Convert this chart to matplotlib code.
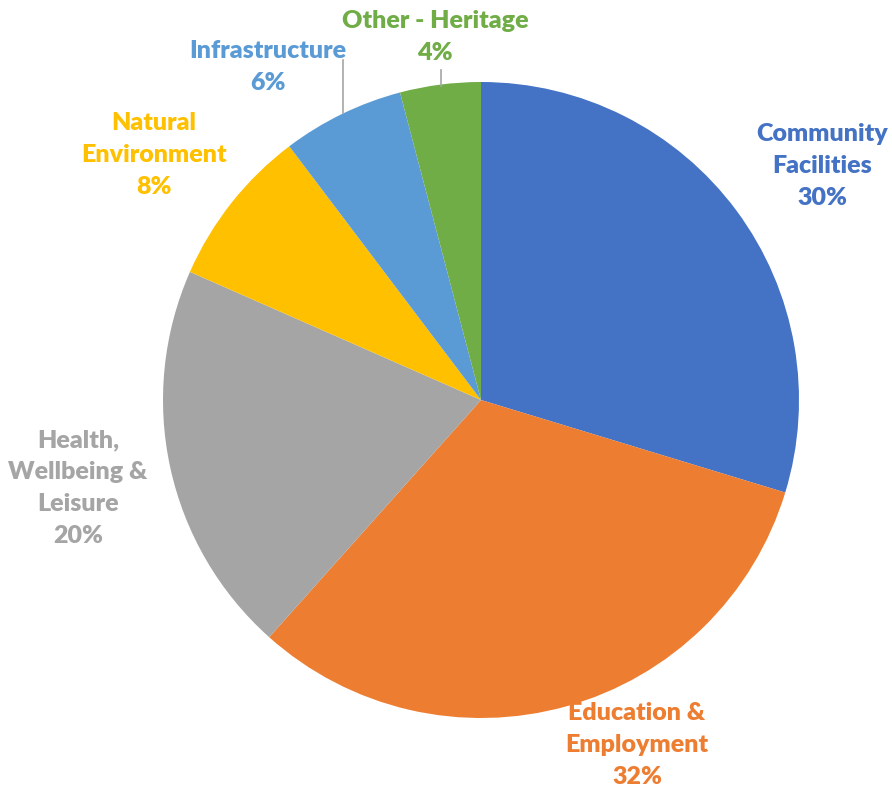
import matplotlib.pyplot as plt
import numpy as np

categories = ['Community\nFacilities', 'Education &\nEmployment', 'Health,\nWellbeing &\nLeisure',
              'Natural\nEnvironment', 'Infrastructure', 'Other - Heritage']
values = [29.7, 31.9, 20.0, 8.1, 6.2, 4.1]
pct_labels = ['30%', '32%', '20%', '8%', '6%', '4%']
colors = ['#4472C4', '#ED7D31', '#A5A5A5', '#FFC000', '#5B9BD5', '#70AD47']

# label centres in pixels of the original picture (x, y from top)
label_px = [(822, 166), (637, 745), (78, 488), (154, 155), (268, 67), (435, 37)]

W, H = 892, 790
cx, cy, r = 481, 400, 318

plt.rcParams['font.family'] = ['Lato', 'DejaVu Sans']

fig = plt.figure(figsize=(W / 100, H / 100), dpi=100)
ax = fig.add_axes([(cx - r) / W, (H - cy - r) / H, 2 * r / W, 2 * r / H])

ax.pie(values, colors=colors, startangle=90, counterclock=False, radius=1,
       wedgeprops=dict(linewidth=0))
ax.set_xlim(-1, 1)
ax.set_ylim(-1, 1)
ax.set_aspect('equal')
ax.axis('off')


def to_data(px, py):
    return (px - cx) / r, (cy - py) / r


for cat, pct, col, (px, py) in zip(categories, pct_labels, colors, label_px):
    x, y = to_data(px, py)
    ax.text(x, y, cat + '\n' + pct, color=col, ha='center', va='center',
            fontsize=18, fontweight='heavy', linespacing=1.55, clip_on=False)

# leader lines
for (x0, y0), (x1, y1) in [((343, 60), (343, 113)), ((441, 70), (441, 86))]:
    a, b = to_data(x0, y0)
    c, d = to_data(x1, y1)
    ax.plot([a, c], [b, d], color='#A6A6A6', lw=1.2, clip_on=False)

fig.savefig('out.png', dpi=100, facecolor='white')
